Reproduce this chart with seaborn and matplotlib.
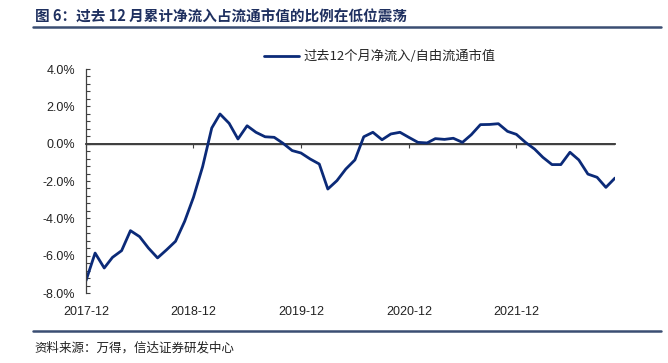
import pandas as pd
import matplotlib.pyplot as plt
import matplotlib.ticker as mticker
import seaborn as sns

# Data: trailing 12M net inflow / free-float market cap (%), monthly
months = pd.date_range('2017-12-01', periods=60, freq='MS')
ratio = [
    -7.34, -5.86, -6.66, -6.09, -5.73, -4.66, -4.98, -5.59, -6.12, -5.68,
    -5.23, -4.16, -2.87, -1.23, 0.84, 1.59, 1.09, 0.25, 0.96, 0.61,
    0.37, 0.34, 0.02, -0.37, -0.50, -0.82, -1.09, -2.43, -1.98, -1.36,
    -0.87, 0.37, 0.61, 0.21, 0.52, 0.61, 0.34, 0.07, 0.04, 0.27,
    0.23, 0.29, 0.07, 0.48, 1.02, 1.03, 1.07, 0.66, 0.50, 0.07,
    -0.29, -0.73, -1.12, -1.12, -0.46, -0.87, -1.63, -1.80, -2.34, -1.84,
]
series_name = '过去12个月净流入/自由流通市值'
tick_months = months[::12]
tick_labels = [d.strftime('%Y-%m') for d in tick_months]
title = '图 6：过去 12 月累计净流入占流通市值的比例在低位震荡'
source = '资料来源：万得，信达证券研发中心'

df = pd.DataFrame({'month': months, series_name: ratio})

sns.set_theme(style='white')
plt.rcParams['font.family'] = ['Liberation Sans', 'Noto Sans CJK SC', 'DejaVu Sans']
plt.rcParams['axes.unicode_minus'] = False

fig = plt.figure(figsize=(6.68, 3.63), dpi=100)
ax = fig.add_axes([0.1287, 0.1928, 0.7920, 0.6171])

sns.lineplot(data=df, x='month', y=series_name, ax=ax, color='#0b2a78',
             linewidth=2.0, label=series_name)

ax.set_xlim(months[0], months[-1])
ax.set_ylim(-8, 4)
ax.yaxis.set_major_locator(mticker.MultipleLocator(2))
ax.yaxis.set_minor_locator(mticker.MultipleLocator(0.4))
ax.yaxis.set_major_formatter(mticker.FuncFormatter(lambda v, p: f'{v:.1f}%'))
ax.tick_params(axis='y', which='both', direction='in', length=3, width=0.8,
               color='#404040', labelsize=9, labelcolor='#222222', pad=8, left=True)

# x labels at the bottom, axis line with ticks at zero
ax.set_xticks(tick_months)
ax.set_xticklabels(tick_labels)
ax.tick_params(axis='x', length=0, labelsize=9, labelcolor='#222222', pad=9)
ax.axhline(0, color='#404040', linewidth=1.0, zorder=1)
sec = ax.secondary_xaxis(8 / 12)
sec.set_xticks(tick_months)
sec.set_xticklabels([''] * len(tick_months))
sec.tick_params(axis='x', direction='in', length=3, width=0.8, color='#404040')
sec.spines['bottom'].set_visible(False)

for s in ['top', 'right', 'bottom']:
    ax.spines[s].set_visible(False)
ax.spines['left'].set_color('#404040')
ax.spines['left'].set_linewidth(0.9)
ax.set_xlabel('')
ax.set_ylabel('')

leg = ax.legend(loc='center', bbox_to_anchor=(0.556, 1.054), frameon=False,
                handlelength=2.6, handletextpad=0.4,
                prop={'family': ['Noto Sans CJK SC', 'DejaVu Sans'], 'size': 9.5})

# Title, rules and source note
fig.text(0.052, 0.953, title, fontsize=10.5, fontweight='bold', color='#1f3060',
         family=['Noto Sans CJK SC', 'DejaVu Sans'], va='center')
fig.add_artist(plt.Line2D([0.049, 0.990], [0.925, 0.925], color='#3b4e73', linewidth=1.8))
fig.add_artist(plt.Line2D([0.049, 0.990], [0.088, 0.088], color='#3b4e73', linewidth=1.8))
fig.text(0.052, 0.042, source, fontsize=9, style='italic', color='#222222',
         family=['Noto Sans CJK SC', 'DejaVu Sans'], va='center')

fig.savefig('out.png', dpi=100)
